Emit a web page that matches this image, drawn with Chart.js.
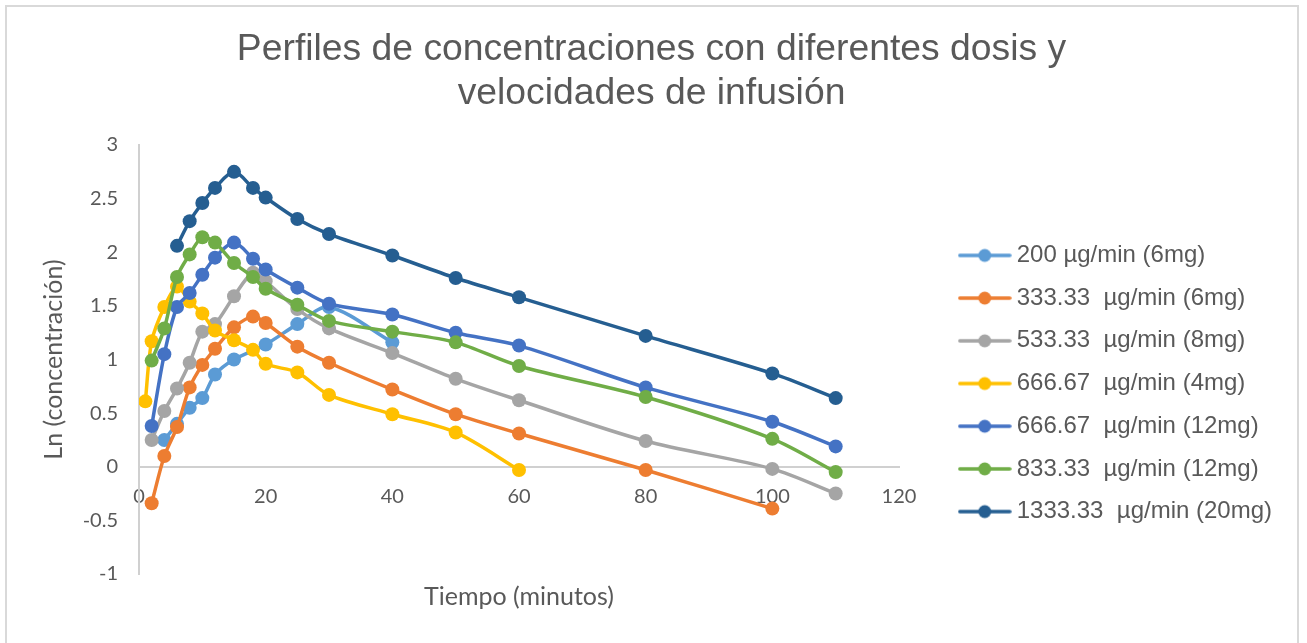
<!DOCTYPE html>
<html>
<head>
<meta charset="utf-8">
<script src="https://cdn.jsdelivr.net/npm/chart.js@4.4.1/dist/chart.umd.min.js"></script>
<style>
  html, body { margin: 0; padding: 0; background: #fff; overflow: hidden; }
  #chart { position: absolute; left: 0; top: 0; }
  #frame { position: absolute; left: 5px; top: 5px; width: 1290px; height: 700px; border: 2px solid #d9d9d9; pointer-events: none; }
</style>
</head>
<body>
<canvas id="chart" width="1307" height="643"></canvas>
<div id="frame"></div>
<script>
// series names and colours (Excel palette)
const seriesNames = [
  '200 µg/min (6mg)',
  '333.33  µg/min (6mg)',
  '533.33  µg/min (8mg)',
  '666.67  µg/min (4mg)',
  '666.67  µg/min (12mg)',
  '833.33  µg/min (12mg)',
  '1333.33  µg/min (20mg)'
];
const seriesColors = ['#5B9BD5', '#ED7D31', '#A5A5A5', '#FFC000', '#4472C4', '#70AD47', '#255E91'];

// time (min) and Ln(concentration) per series
const t200 = [4, 6, 8, 10, 12, 15, 20, 25, 30, 40];
const v200 = [0.25, 0.40, 0.55, 0.64, 0.86, 1.00, 1.14, 1.33, 1.49, 1.16];

const t333 = [2, 4, 6, 8, 10, 12, 15, 18, 20, 25, 30, 40, 50, 60, 80, 100];
const v333 = [-0.34, 0.10, 0.37, 0.74, 0.95, 1.10, 1.30, 1.40, 1.34, 1.12, 0.97, 0.72, 0.49, 0.31, -0.03, -0.39];

const t533 = [2, 4, 6, 8, 10, 12, 15, 18, 20, 25, 30, 40, 50, 60, 80, 100, 110];
const v533 = [0.25, 0.52, 0.73, 0.97, 1.26, 1.33, 1.59, 1.81, 1.73, 1.47, 1.29, 1.06, 0.82, 0.62, 0.24, -0.02, -0.25];

const t667a = [1, 2, 4, 6, 8, 10, 12, 15, 18, 20, 25, 30, 40, 50, 60];
const v667a = [0.61, 1.17, 1.49, 1.68, 1.54, 1.43, 1.27, 1.18, 1.09, 0.96, 0.88, 0.67, 0.49, 0.32, -0.03];

const t667b = [2, 4, 6, 8, 10, 12, 15, 18, 20, 25, 30, 40, 50, 60, 80, 100, 110];
const v667b = [0.38, 1.05, 1.49, 1.62, 1.79, 1.95, 2.09, 1.94, 1.84, 1.67, 1.52, 1.42, 1.25, 1.13, 0.74, 0.42, 0.19];

const t833 = [2, 4, 6, 8, 10, 12, 15, 18, 20, 25, 30, 40, 50, 60, 80, 100, 110];
const v833 = [0.99, 1.29, 1.77, 1.98, 2.14, 2.09, 1.90, 1.77, 1.66, 1.51, 1.36, 1.26, 1.16, 0.94, 0.65, 0.26, -0.05];

const t1333 = [6, 8, 10, 12, 15, 18, 20, 25, 30, 40, 50, 60, 80, 100, 110];
const v1333 = [2.06, 2.29, 2.46, 2.60, 2.75, 2.60, 2.51, 2.31, 2.17, 1.97, 1.76, 1.58, 1.22, 0.87, 0.64];

const seriesTimes = [t200, t333, t533, t667a, t667b, t833, t1333];
const seriesValues = [v200, v333, v533, v667a, v667b, v833, v1333];

// axis ranges: [min, max, step]
const xRange = [0, 120, 20];
const yRange = [-1, 3, 0.5];

const textColor = '#595959';
const axisColor = '#d0d0d0';

function legendIcon(color) {
  const c = document.createElement('canvas');
  c.width = 54;
  c.height = 16;
  const g = c.getContext('2d');
  g.strokeStyle = color;
  g.lineWidth = 3.5;
  g.lineCap = 'round';
  g.beginPath();
  g.moveTo(2, 8);
  g.lineTo(52, 8);
  g.stroke();
  g.fillStyle = color;
  g.beginPath();
  g.arc(27, 8, 6.5, 0, Math.PI * 2);
  g.fill();
  return c;
}

const icons = seriesColors.map(legendIcon);

const datasets = seriesNames.map((name, i) => ({
  label: name,
  data: seriesTimes[i].map((t, k) => ({ x: t, y: seriesValues[i][k] })),
  borderColor: seriesColors[i],
  backgroundColor: seriesColors[i],
  pointBackgroundColor: seriesColors[i],
  pointBorderColor: seriesColors[i],
  pointBorderWidth: 0,
  pointRadius: 7,
  borderWidth: 3.5,
  tension: 0.3,
  fill: false,
  xAxisID: 'x',
  yAxisID: 'y',
  order: seriesNames.length - i
}));

const tickFont = { family: 'Lato', size: 20 };
const axisTitleFont = { family: 'Lato', size: 25 };

new Chart(document.getElementById('chart'), {
  type: 'line',
  data: { datasets },
  options: {
    responsive: false,
    animation: false,
    layout: { padding: { left: 21, right: 25, top: 0, bottom: 31 } },
    plugins: {
      title: {
        display: true,
        text: ['Perfiles de concentraciones con diferentes dosis y', 'velocidades de infusión'],
        color: textColor,
        font: { family: 'Liberation Sans', size: 37.3, weight: 'normal', lineHeight: 1.18 },
        padding: { top: 28, bottom: 29 }
      },
      legend: {
        position: 'right',
        fullSize: false,
        maxWidth: 420,
        title: { display: true, text: '', font: { size: 10 }, padding: { top: 36, bottom: 0 } },
        labels: {
          usePointStyle: true,
          pointStyleWidth: 40,
          padding: 18.7,
          color: textColor,
          font: { family: 'Liberation Sans', size: 24 },
          sort: (a, b) => a.datasetIndex - b.datasetIndex,
          generateLabels: chart => chart.data.datasets.map((ds, i) => ({
            text: ds.label,
            pointStyle: icons[i],
            fillStyle: ds.borderColor,
            strokeStyle: ds.borderColor,
            lineWidth: 0,
            hidden: false,
            fontColor: textColor,
            datasetIndex: i
          }))
        }
      },
      tooltip: { enabled: false }
    },
    scales: {
      x: {
        type: 'linear',
        position: { y: 0 },
        min: xRange[0],
        max: xRange[1],
        ticks: { stepSize: xRange[2], padding: 18, color: textColor, font: tickFont },
        grid: { display: false, drawTicks: false },
        border: { color: axisColor, width: 2 }
      },
      xTitle: {
        type: 'linear',
        axis: 'x',
        position: 'bottom',
        ticks: { display: false },
        grid: { display: false, drawTicks: false },
        border: { display: false },
        title: { display: true, text: 'Tiempo (minutos)', color: textColor, font: axisTitleFont, padding: { top: 8, bottom: 0 } }
      },
      y: {
        type: 'linear',
        position: 'left',
        min: yRange[0],
        max: yRange[1],
        ticks: { stepSize: yRange[2], padding: 21, color: textColor, font: tickFont, callback: v => String(v) },
        grid: { display: false, drawTicks: false },
        border: { color: axisColor, width: 2 },
        title: { display: true, text: 'Ln (concentración)', color: textColor, font: axisTitleFont, padding: { top: 18, bottom: 0 } },
        afterFit: scale => { scale.width = 118; }
      },
      yGap: {
        type: 'linear',
        axis: 'y',
        position: 'right',
        ticks: { display: false },
        grid: { display: false, drawTicks: false },
        border: { display: false },
        afterFit: scale => { scale.width = 47; }
      }
    }
  }
});
</script>
</body>
</html>
